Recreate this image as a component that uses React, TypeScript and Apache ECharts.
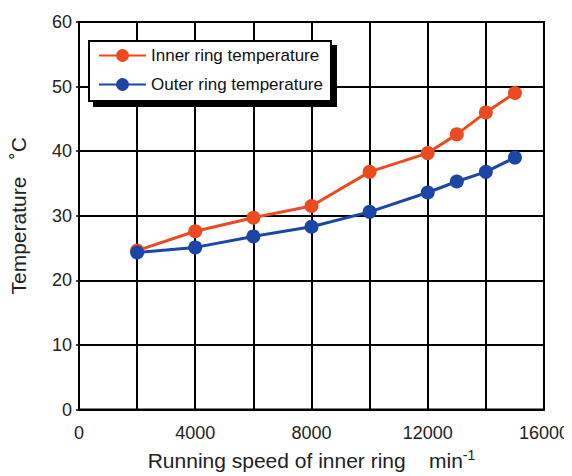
import React, { useEffect, useRef } from "react";
import * as echarts from "echarts";

const speeds = [2000, 4000, 6000, 8000, 10000, 12000, 13000, 14000, 15000];
const innerTemp = [24.6, 27.6, 29.7, 31.5, 36.8, 39.7, 42.6, 46.0, 49.0];
const outerTemp = [24.3, 25.1, 26.8, 28.3, 30.6, 33.6, 35.3, 36.8, 39.0];
const seriesNames = ["Inner ring temperature", "Outer ring temperature"];

const FONT = "Liberation Sans, Arial, sans-serif";

export default function App() {
  const ref = useRef<HTMLDivElement>(null);
  useEffect(() => {
    if (!ref.current) return;
    const chart = echarts.init(ref.current, null, { renderer: "svg" });
    chart.setOption({
      animation: false,
      backgroundColor: "#fff",
      textStyle: { fontFamily: FONT },
      grid: {
        left: 78,
        right: 24,
        top: 22,
        bottom: 63,
        show: true,
        borderColor: "#000",
        borderWidth: 2,
        backgroundColor: "transparent",
      },
      legend: {
        orient: "vertical",
        left: 89,
        top: 41,
        itemWidth: 47,
        itemHeight: 16,
        itemGap: 12,
        padding: [6, 8, 8, 9],
        backgroundColor: "#fff",
        borderColor: "#000",
        borderWidth: 2,
        shadowColor: "#000",
        shadowBlur: 0,
        shadowOffsetX: 5,
        shadowOffsetY: 5,
        textStyle: { fontFamily: FONT, fontSize: 17, color: "#111" },
        data: seriesNames,
      },
      xAxis: {
        type: "value",
        min: 0,
        max: 16000,
        interval: 2000,
        name: "Running speed of inner ring    min{sup|-1}",
        nameLocation: "middle",
        nameGap: 38,
        nameTextStyle: {
          fontFamily: FONT,
          fontSize: 21,
          color: "#222",
          rich: {
            sup: { fontSize: 14, verticalAlign: "top", padding: [0, 0, 12, 0], color: "#222" },
          },
        },
        axisLine: { show: true, lineStyle: { color: "#000", width: 2 } },
        axisTick: { show: false },
        axisLabel: {
          fontFamily: FONT,
          fontSize: 18,
          color: "#222",
          margin: 14,
          formatter: (v: number) => (v % 4000 === 0 ? String(v) : ""),
        },
        splitLine: { show: true, lineStyle: { color: "#000", width: 2 } },
      },
      yAxis: {
        type: "value",
        min: 0,
        max: 60,
        interval: 10,
        name: "Temperature   ˚C",
        nameLocation: "middle",
        nameGap: 50,
        nameTextStyle: { fontFamily: FONT, fontSize: 21, color: "#222" },
        axisLine: { show: true, lineStyle: { color: "#000", width: 2 } },
        axisTick: { show: true, length: 3, lineStyle: { color: "#000", width: 1.5 } },
        axisLabel: {
          fontFamily: FONT,
          fontSize: 18,
          color: "#222",
          margin: 7,
          padding: [0, 0, 9, 0],
        },
        splitLine: { show: true, lineStyle: { color: "#000", width: 2 } },
      },
      series: [
        {
          name: seriesNames[0],
          type: "line",
          data: speeds.map((s, i) => [s, innerTemp[i]]),
          symbol: "circle",
          symbolSize: 14,
          itemStyle: { color: "#ec4a1f" },
          lineStyle: { color: "#ec4a1f", width: 3 },
          z: 3,
        },
        {
          name: seriesNames[1],
          type: "line",
          data: speeds.map((s, i) => [s, outerTemp[i]]),
          symbol: "circle",
          symbolSize: 14,
          itemStyle: { color: "#1b45a6" },
          lineStyle: { color: "#1b45a6", width: 3 },
          z: 4,
        },
      ],
    });
    return () => chart.dispose();
  }, []);
  return <div ref={ref} style={{ width: 572, height: 476, marginLeft: -8, marginTop: -8 }} />;
}
